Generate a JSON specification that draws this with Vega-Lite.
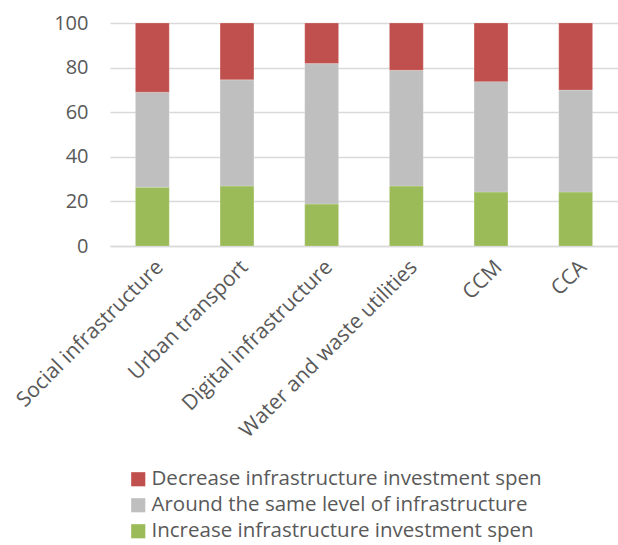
{
  "$schema": "https://vega.github.io/schema/vega-lite/v6.json",
  "width": 508,
  "height": 223,
  "autosize": {"type": "none"},
  "padding": {"left": 110, "top": 23, "right": 0, "bottom": 299},
  "background": "white",
  "config": {
    "font": "Open Sans",
    "view": {"stroke": null}
  },
  "data": {
    "values": [
      {"cat": "Social infrastructure", "ord": 1, "resp": "Increase infrastructure investment spen", "so": 1, "v": 26.4},
      {"cat": "Social infrastructure", "ord": 1, "resp": "Around the same level of infrastructure", "so": 2, "v": 42.6},
      {"cat": "Social infrastructure", "ord": 1, "resp": "Decrease infrastructure investment spen", "so": 3, "v": 31.0},
      {"cat": "Urban transport", "ord": 2, "resp": "Increase infrastructure investment spen", "so": 1, "v": 26.9},
      {"cat": "Urban transport", "ord": 2, "resp": "Around the same level of infrastructure", "so": 2, "v": 47.6},
      {"cat": "Urban transport", "ord": 2, "resp": "Decrease infrastructure investment spen", "so": 3, "v": 25.5},
      {"cat": "Digital infrastructure", "ord": 3, "resp": "Increase infrastructure investment spen", "so": 1, "v": 18.8},
      {"cat": "Digital infrastructure", "ord": 3, "resp": "Around the same level of infrastructure", "so": 2, "v": 63.0},
      {"cat": "Digital infrastructure", "ord": 3, "resp": "Decrease infrastructure investment spen", "so": 3, "v": 18.2},
      {"cat": "Water and waste utilities", "ord": 4, "resp": "Increase infrastructure investment spen", "so": 1, "v": 26.9},
      {"cat": "Water and waste utilities", "ord": 4, "resp": "Around the same level of infrastructure", "so": 2, "v": 51.9},
      {"cat": "Water and waste utilities", "ord": 4, "resp": "Decrease infrastructure investment spen", "so": 3, "v": 21.2},
      {"cat": "CCM", "ord": 5, "resp": "Increase infrastructure investment spen", "so": 1, "v": 24.2},
      {"cat": "CCM", "ord": 5, "resp": "Around the same level of infrastructure", "so": 2, "v": 49.5},
      {"cat": "CCM", "ord": 5, "resp": "Decrease infrastructure investment spen", "so": 3, "v": 26.3},
      {"cat": "CCA", "ord": 6, "resp": "Increase infrastructure investment spen", "so": 1, "v": 24.2},
      {"cat": "CCA", "ord": 6, "resp": "Around the same level of infrastructure", "so": 2, "v": 45.7},
      {"cat": "CCA", "ord": 6, "resp": "Decrease infrastructure investment spen", "so": 3, "v": 30.1}
    ]
  },
  "mark": {"type": "bar", "stroke": "white", "strokeWidth": 0.5, "strokeOpacity": 0.4},
  "encoding": {
    "x": {
      "field": "cat",
      "type": "nominal",
      "sort": {"field": "ord"},
      "title": null,
      "scale": {"paddingInner": 0.6, "paddingOuter": 0.3},
      "axis": {
        "labelAngle": -45,
        "labelFontSize": 21,
        "labelColor": "#595959",
        "labelPadding": 10,
        "ticks": false,
        "domainColor": "#D9D9D9",
        "domainWidth": 1.5,
        "labelLimit": 400
      }
    },
    "y": {
      "field": "v",
      "type": "quantitative",
      "stack": "zero",
      "title": null,
      "scale": {"domain": [0, 100], "nice": false},
      "axis": {
        "values": [0, 20, 40, 60, 80, 100],
        "labelFontSize": 20,
        "labelColor": "#595959",
        "labelPadding": 22,
        "ticks": false,
        "domain": false,
        "gridColor": "#D9D9D9",
        "gridWidth": 1.5
      }
    },
    "color": {
      "field": "resp",
      "type": "nominal",
      "scale": {
        "domain": ["Decrease infrastructure investment spen", "Around the same level of infrastructure", "Increase infrastructure investment spen"],
        "range": ["#C0504D", "#BFBFBF", "#9BBB59"]
      },
      "legend": {
        "title": null,
        "orient": "none",
        "legendX": 18,
        "legendY": 446,
        "symbolType": "square",
        "symbolSize": 200,
        "symbolStrokeWidth": 0,
        "labelFontSize": 20.5,
        "labelColor": "#595959",
        "rowPadding": 5,
        "labelLimit": 500,
        "labelOffset": 3
      }
    },
    "order": {"field": "so", "type": "quantitative"}
  }
}
